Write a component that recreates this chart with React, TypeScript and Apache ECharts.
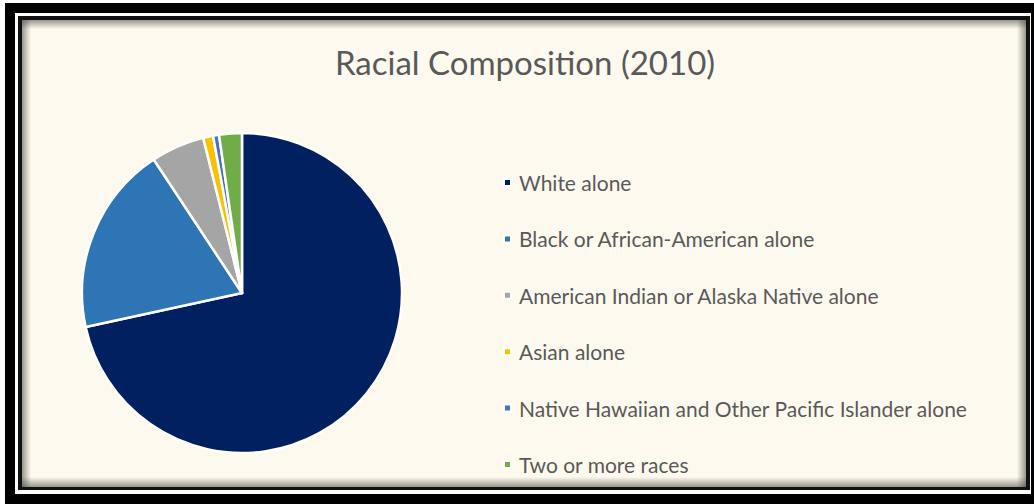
import React, { useEffect, useRef } from "react";
import * as echarts from "echarts";

const categories = [
  "White alone",
  "Black or African-American alone",
  "American Indian or Alaska Native alone",
  "Asian alone",
  "Native Hawaiian and Other Pacific Islander alone",
  "Two or more races",
];
const values = [71.6, 19.1, 5.4, 1.0, 0.6, 2.3];
const colors = ["#002060", "#2e75b6", "#a5a5a5", "#ffc000", "#4472c4", "#70ad47"];
const titleText = "Racial Composition (2010)";

export default function App() {
  const ref = useRef<HTMLDivElement>(null);
  useEffect(() => {
    if (!ref.current) return;
    const chart = echarts.init(ref.current, undefined, { renderer: "svg" });
    const shade = "rgba(70,70,60,0.55)";
    const clear = "rgba(70,70,60,0)";
    const lg = (x: number, y: number, x2: number, y2: number) => ({
      type: "linear", x, y, x2, y2,
      colorStops: [{ offset: 0, color: shade }, { offset: 1, color: clear }],
    });
    chart.setOption({
      animation: false,
      backgroundColor: "#ffffff",
      color: colors,
      graphic: [
        { type: "rect", z: -10, shape: { x: 5, y: 3, width: 1040, height: 510 }, style: { fill: "#000" } },
        { type: "rect", z: -9, shape: { x: 15, y: 13, width: 1016, height: 481 }, style: { fill: "#fff" } },
        { type: "rect", z: -8, shape: { x: 18, y: 16, width: 1012, height: 474 }, style: { fill: "#111" } },
        { type: "rect", z: -7, shape: { x: 22, y: 20, width: 1004, height: 467 }, style: { fill: "#fdf9ee" } },
        { type: "rect", z: -6, shape: { x: 22, y: 20, width: 1004, height: 9 }, style: { fill: lg(0, 0, 0, 1) } },
        { type: "rect", z: -6, shape: { x: 22, y: 20, width: 9, height: 467 }, style: { fill: lg(0, 0, 1, 0) } },
        { type: "rect", z: -6, shape: { x: 22, y: 477, width: 1004, height: 10 }, style: { fill: lg(0, 1, 0, 0) } },
        { type: "rect", z: -6, shape: { x: 1017, y: 20, width: 9, height: 467 }, style: { fill: lg(1, 0, 0, 0) } },
      ],
      title: {
        text: titleText,
        left: 525,
        top: 45,
        padding: 0,
        textAlign: "center",
        textStyle: { fontFamily: "Lato", fontSize: 33, fontWeight: "normal", color: "#595959" },
      },
      legend: {
        orient: "vertical",
        left: 503,
        top: 172,
        padding: 0,
        itemWidth: 7,
        itemHeight: 7,
        itemGap: 35.4,
        icon: "rect",
        data: categories,
        textStyle: { fontFamily: "Lato", fontSize: 21, color: "#595959", lineHeight: 20, padding: [0, 0, 0, 3] },
      },
      series: [
        {
          type: "pie",
          center: [242, 293],
          radius: 160,
          startAngle: 90,
          clockwise: true,
          label: { show: false },
          labelLine: { show: false },
          itemStyle: { borderColor: "#ffffff", borderWidth: 2.5 },
          data: categories.map((name, i) => ({ name, value: values[i] })),
        },
      ],
    });
    return () => chart.dispose();
  }, []);
  return (
    <div
      ref={ref}
      style={{ position: "fixed", left: 0, top: 0, width: 1034, height: 504 }}
    />
  );
}
